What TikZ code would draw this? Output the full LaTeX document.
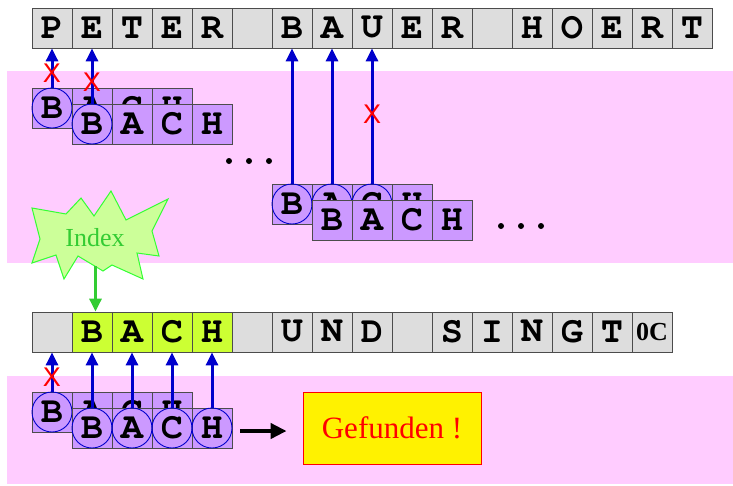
\documentclass[tikz,border=0pt]{standalone}
\usepackage[T1]{fontenc}
\usepackage{fontspec}
\setmainfont{Liberation Serif}
\newfontfamily\sansfnt{Liberation Sans}
\newcommand{\courb}{\fontencoding{T1}\fontfamily{pcr}\fontseries{b}\selectfont}
\usetikzlibrary{arrows.meta}
\definecolor{pinkbg}{RGB}{255,204,255}
\definecolor{cellgray}{RGB}{221,221,221}
\definecolor{cellpurple}{RGB}{204,153,255}
\definecolor{cellgreen}{RGB}{204,255,51}
\definecolor{ptrblue}{RGB}{0,0,204}
\definecolor{burstfill}{RGB}{204,255,153}
\definecolor{burstline}{RGB}{51,255,51}
\definecolor{idxtext}{RGB}{51,204,51}
\tikzset{
  cell/.style={draw=black!70, line width=0.8pt, minimum width=40pt, minimum height=40pt,
    inner sep=0pt, font=\courb\fontsize{37}{37}\selectfont},
  pcell/.style={cell, fill=cellpurple},
  ring/.style={circle, draw=ptrblue, line width=0.9pt, minimum size=40pt, inner sep=0pt},
  ptr/.style={draw=ptrblue, line width=3pt, -{Triangle[length=13pt,width=12pt]}},
  redx/.style={text=red, inner sep=0pt, font=\sansfnt\fontsize{27}{27}\selectfont},
  band/.style={fill=pinkbg, draw=none},
  burst/.style={fill=burstfill, draw=burstline, line width=1pt, line join=miter},
  idxarrow/.style={draw=idxtext, line width=3pt, -{Triangle[length=13pt,width=12pt]}},
  bigarrow/.style={draw=black, line width=4pt, -{Triangle[length=16pt,width=15pt]}},
  gefbox/.style={fill=yellow, draw=red, line width=0.8pt, minimum width=178pt, minimum height=72pt,
    text=red, font=\fontsize{31}{31}\selectfont},
  dotmark/.style={fill=black}
}
\begin{document}
\begin{tikzpicture}[x=1pt,y=-1pt]
\useasboundingbox (0,0) rectangle (733,485);
% background bands
\fill[band] (7,71) rectangle (733,263);
\fill[band] (7,376) rectangle (733,484);
% top text row
\foreach \l [count=\i] in {P,E,T,E,R,{},B,A,U,E,R,{},H,O,E,R,T}
  \node[cell, fill=cellgray] (t\i) at ({12+40*\i},28) {\l};
% bottom text row
\foreach \l/\c [count=\i] in {{}/cellgray,B/cellgreen,A/cellgreen,C/cellgreen,H/cellgreen,{}/cellgray,U/cellgray,N/cellgray,D/cellgray,{}/cellgray,S/cellgray,I/cellgray,N/cellgray,G/cellgray,T/cellgray}
  \node[cell, fill=\c] (b\i) at ({12+40*\i},332) {\l};
\node[cell, fill=cellgray, font=\bfseries\fontsize{26}{26}\selectfont] (b16) at (652,332) {0C};
% index starburst
\draw[burst] (32,208) -- (66,214) -- (81,198) -- (94,216) -- (111,191) -- (126,220) -- (168,199)
  -- (152,231) -- (159,256) -- (137,253) -- (143,279) -- (112,265) -- (103,271) -- (78,256)
  -- (64,279) -- (56,255) -- (32,263) -- (40,239) -- cycle;
\node[text=idxtext, font=\fontsize{26}{26}\selectfont, inner sep=0pt] (idx) at (95,238) {Index};
\coordinate (idxfoot) at (95.5,266);
\draw[idxarrow] (idxfoot) -- (idxfoot |- b2.north);
% pattern block 1 and 2
\foreach \l [count=\i] in {B,A,C,H} \node[pcell] (pa\i) at ({12+40*\i},108) {\l};
\node[ring] (ca1) at (pa1) {};
\foreach \l [count=\i] in {B,A,C,H} \node[pcell] (pb\i) at ({52+40*\i},124) {\l};
\node[ring] (cb1) at (pb1) {};
% pattern block 3 and 4
\foreach \l [count=\i] in {B,A,C,H} \node[pcell] (pc\i) at ({252+40*\i},204) {\l};
\node[ring] (cc1) at (pc1) {};
\node[ring] (cc2) at (pc2) {};
\node[ring] (cc3) at (pc3) {};
\foreach \l [count=\i] in {B,A,C,H} \node[pcell] (pd\i) at ({292+40*\i},220) {\l};
% pattern block 5 and 6
\foreach \l [count=\i] in {B,A,C,H} \node[pcell] (pe\i) at ({12+40*\i},412) {\l};
\node[ring] (ce1) at (pe1) {};
\foreach \l [count=\i] in {B,A,C,H} \node[pcell] (pf\i) at ({52+40*\i},428) {\l};
\foreach \i in {1,2,3,4} \node[ring] (cf\i) at (pf\i) {};
% pointers
\draw[ptr] (ca1.north) -- (t1.south);
\draw[ptr] (cb1.north) -- (t2.south);
\draw[ptr] (cc1.north) -- (t7.south);
\draw[ptr] (cc2.north) -- (t8.south);
\draw[ptr] (cc3.north) -- (t9.south);
\draw[ptr] (ce1.north) -- (b1.south);
\draw[ptr] (cf1.north) -- (b2.south);
\draw[ptr] (cf2.north) -- (b3.south);
\draw[ptr] (cf3.north) -- (b4.south);
\draw[ptr] (cf4.north) -- (b5.south);
% mismatch marks
\node[redx] (x1) at (52,73) {X};
\node[redx] (x2) at (92,82) {X};
\node[redx] (x3) at (372,114) {X};
\node[redx] (x4) at (52,377) {X};
% ellipsis dots
\foreach \x in {229,249,269} \fill[dotmark] (\x,161) circle (3pt);
\foreach \x in {501,521,541} \fill[dotmark] (\x,226) circle (3pt);
% result
\node[gefbox] (gef) at (392,428) {Gefunden !};
\draw[bigarrow] ([xshift=8pt,yshift=-3pt]pf4.east) -- ([xshift=-16pt,yshift=-3pt]gef.west);
\end{tikzpicture}
\end{document}
